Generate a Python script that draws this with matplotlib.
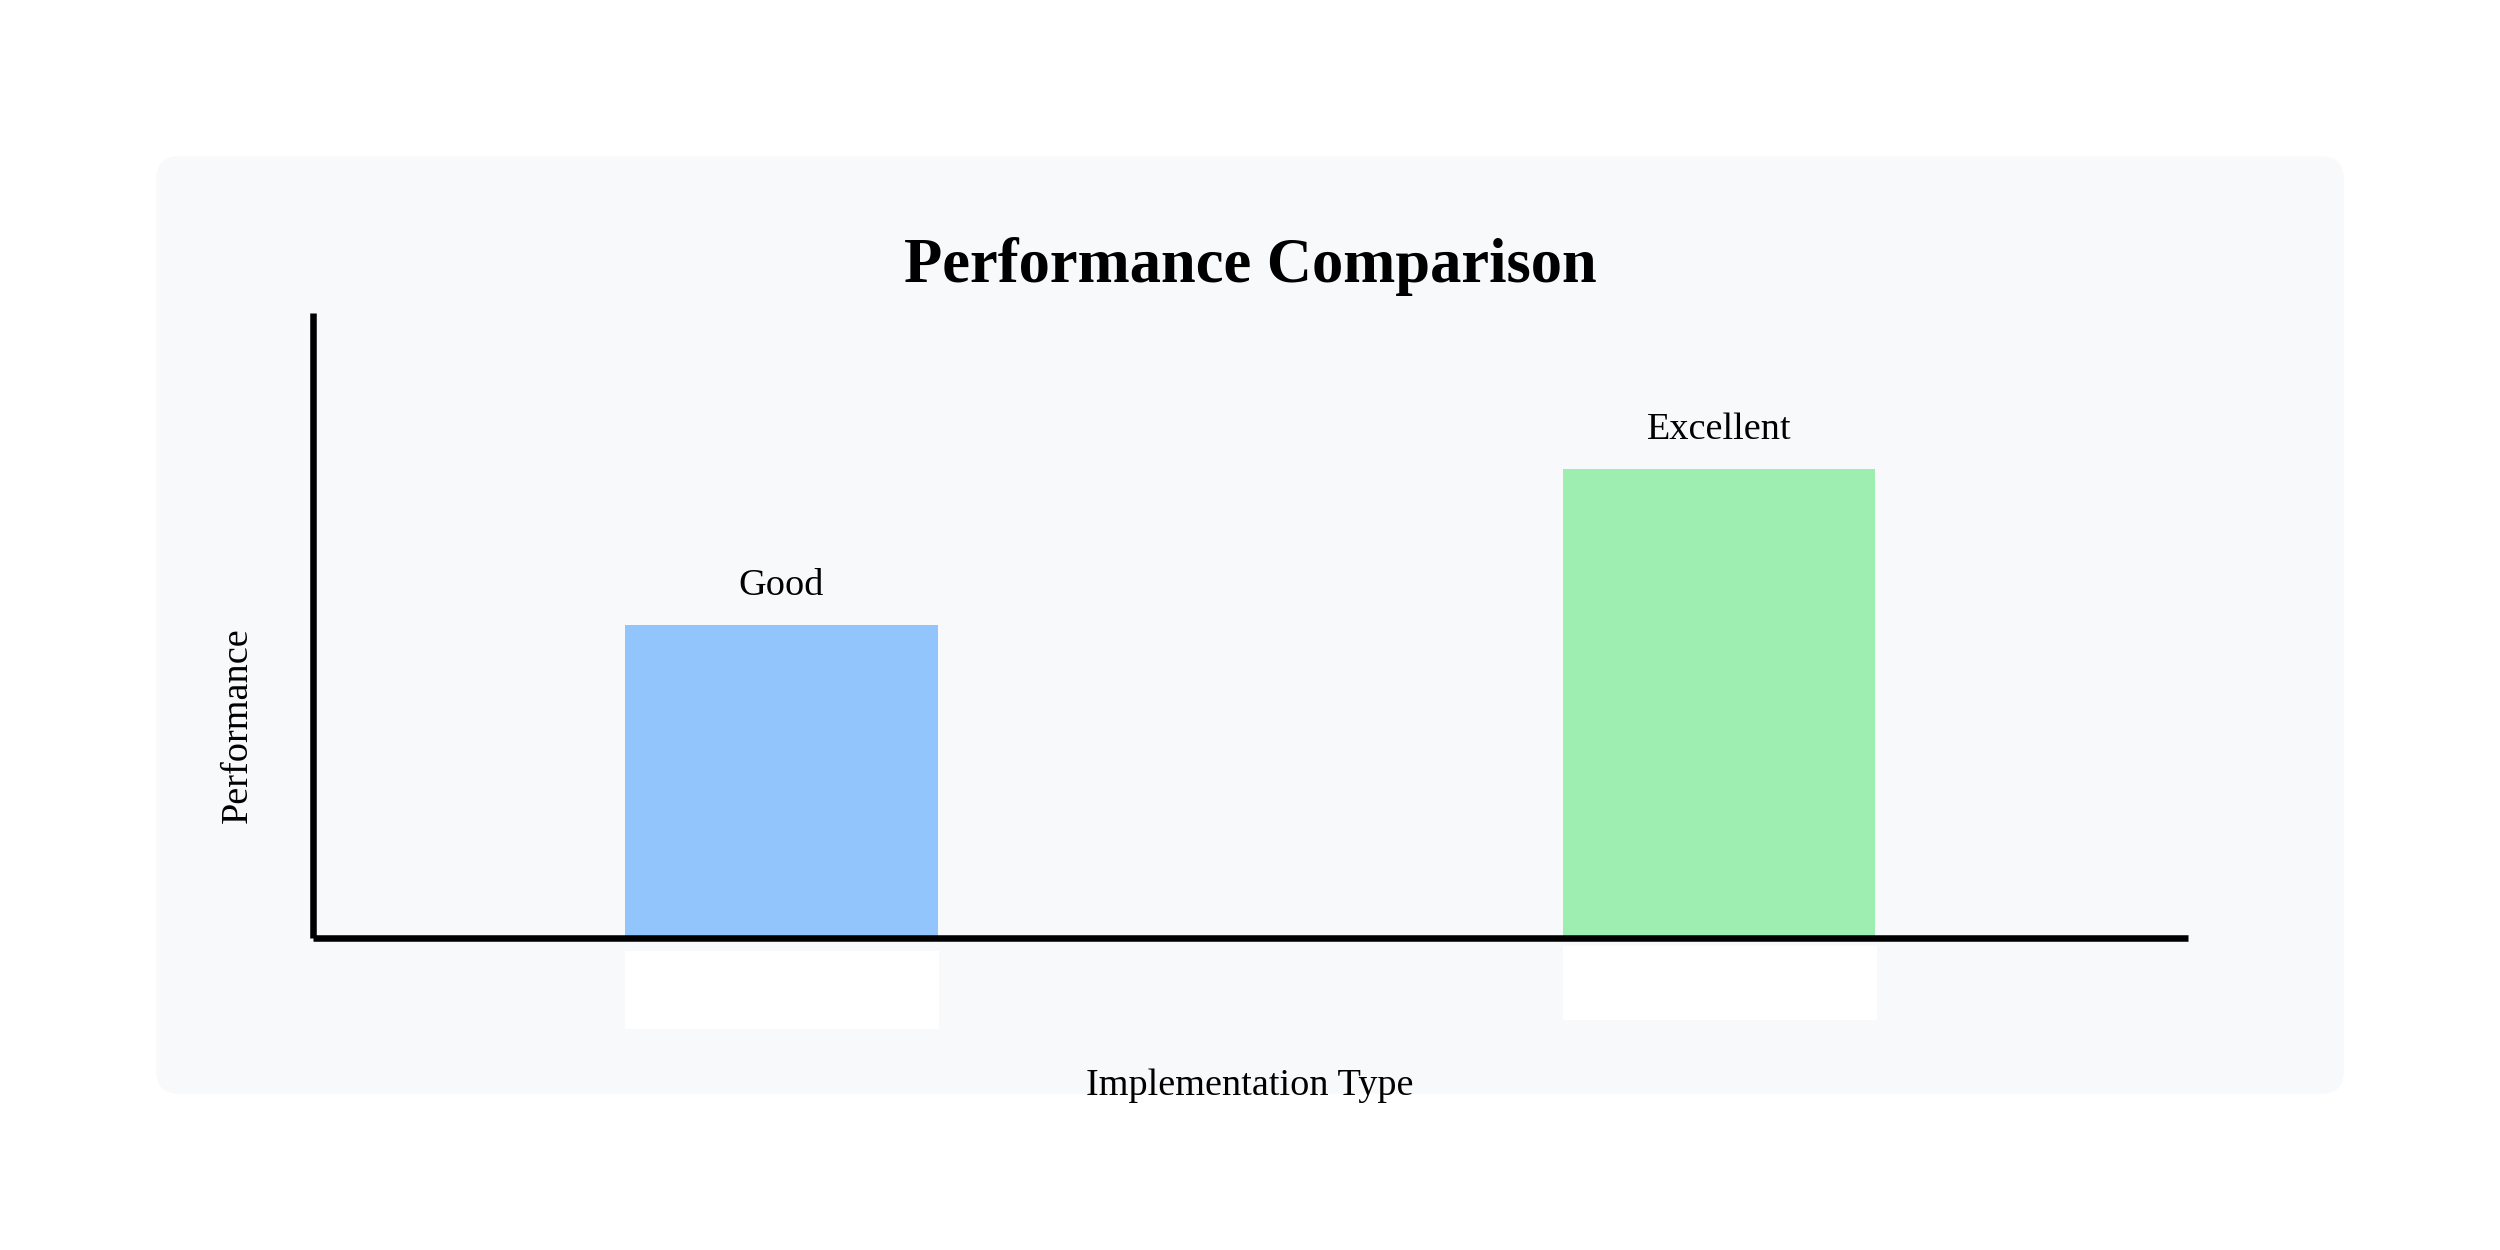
import matplotlib
matplotlib.use('Agg')
import matplotlib.pyplot as plt
from matplotlib.patches import FancyBboxPatch, Rectangle
import matplotlib.transforms as mtransforms

# data
categories = ['Good', 'Excellent']
positions = [1.5, 4.5]
values = [50, 75]
colors = ['#93c5fd', '#9deeb0']

plt.rcParams['font.family'] = ['Liberation Serif', 'DejaVu Serif']

fig = plt.figure(figsize=(25, 12.5), dpi=100)
fig.patch.set_facecolor('white')

# rounded background panel (behind the axes)
panel = FancyBboxPatch((0.0625 + 0.008, 0.125 + 0.016), 0.875 - 0.016, 0.75 - 0.032,
                       boxstyle='round,pad=0.008,rounding_size=0.009',
                       mutation_aspect=2,
                       transform=fig.transFigure, facecolor='#f8f9fa',
                       edgecolor='none', zorder=-1)
fig.patches.append(panel)

ax = fig.add_axes([0.125, 0.25, 0.75, 0.5])
ax.patch.set_alpha(0)
ax.bar(positions, values, width=1.0, color=colors, zorder=1)
ax.set_xlim(0, 6)
ax.set_ylim(0, 100)

for s in ['top', 'right']:
    ax.spines[s].set_visible(False)
for s in ['left', 'bottom']:
    ax.spines[s].set_linewidth(4.7)
    ax.spines[s].set_color('black')
    ax.spines[s].set_capstyle('butt')
ax.set_xticks([])
ax.set_yticks([])

# value labels above bars
for x, v, lab in zip(positions, values, categories):
    ax.annotate(lab, (x, v), xytext=(0, 21.5), textcoords='offset points',
                ha='center', va='baseline', fontsize=27.5)

# empty white tick-label boxes below bars
trans = mtransforms.blended_transform_factory(ax.transData, ax.transAxes)
ax.add_patch(Rectangle((positions[0] - 0.5, -0.146), 1.005, 0.125, transform=trans,
                       facecolor='white', edgecolor='none', clip_on=False))
ax.add_patch(Rectangle((positions[1] - 0.5, -0.132), 1.007, 0.118, transform=trans,
                       facecolor='white', edgecolor='none', clip_on=False))

ax.set_xlabel('Implementation Type', fontsize=27.5)
ax.xaxis.set_label_coords(0.5, -0.252)
ax.xaxis.label.set_va('baseline')
ax.set_ylabel('Performance', fontsize=27.5)
ax.yaxis.set_label_coords(-0.0397, 0.34)
ax.yaxis.label.set_va('center')

fig.text(0.5, 0.7746, 'Performance Comparison', ha='center', va='baseline',
         fontsize=45, fontweight='bold')

fig.savefig('out.png', dpi=100)
